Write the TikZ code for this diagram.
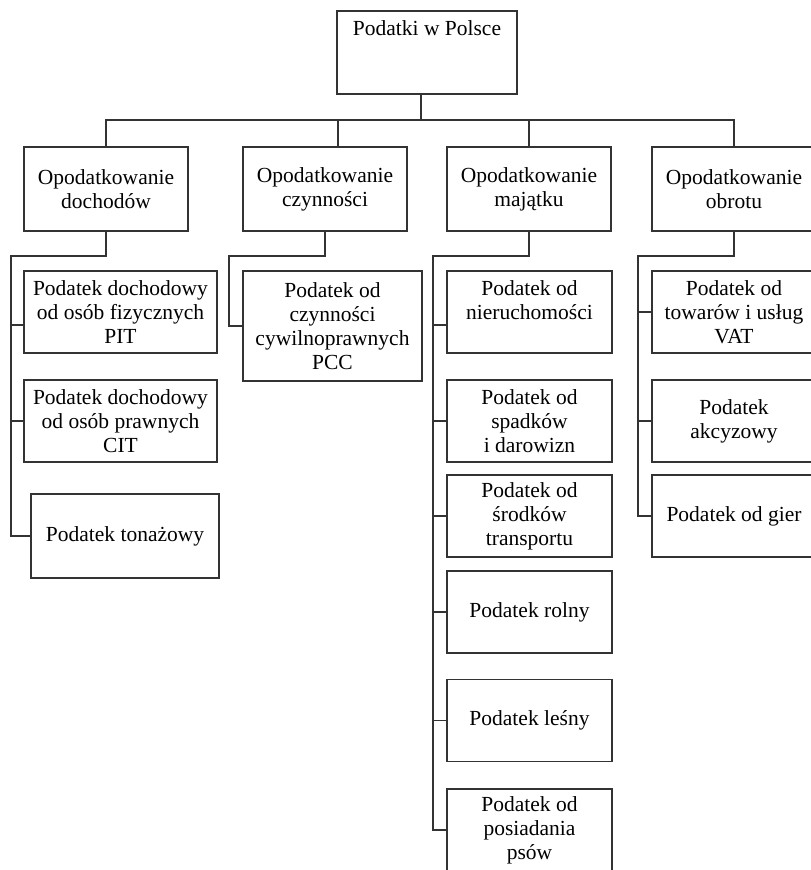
\documentclass[tikz,border=0pt]{standalone}
\usepackage{fontspec}
\setmainfont{Liberation Serif}
\begin{document}
\begin{tikzpicture}[x=1pt, y=-1pt,
    box/.style={draw=black!80, line width=1.1pt, align=center, inner sep=0pt,
        font=\fontsize{21.5}{24}\selectfont},
    link/.style={draw=black!80, line width=1.1pt}]
    \useasboundingbox (0,0) rectangle (811,870);
    \clip (0,0) rectangle (811,870);

    % Root
    \node[box, minimum width=180, minimum height=83] (podatki) at (427,52.5) {Podatki w Polsce\\ \mbox{}\\ \mbox{}};

    % Level 1
    \node[box, minimum width=164, minimum height=84] (dochody) at (106,189) {Opodatkowanie\\dochodów};
    \node[box, minimum width=164, minimum height=84] (czynnosci) at (325,189) {Opodatkowanie\\czynności};
    \node[box, minimum width=164, minimum height=84] (majatek) at (529,189) {Opodatkowanie\\majątku};
    \node[box, minimum width=164, minimum height=84] (obrot) at (734,189) {Opodatkowanie\\obrotu};

    % Income taxes
    \node[box, minimum width=193, minimum height=82] (pit) at (120.5,312) {Podatek dochodowy\\od osób fizycznych\\PIT};
    \node[box, minimum width=193, minimum height=82] (cit) at (120.5,421) {Podatek dochodowy\\od osób prawnych\\CIT};
    \node[box, minimum width=188, minimum height=84] (tonaz) at (125,536) {Podatek tonażowy};

    % Activity taxes
    \node[box, minimum width=179, minimum height=110] (pcc) at (332.5,326) {Podatek od\\czynności\\cywilnoprawnych\\PCC};

    % Property taxes
    \node[box, minimum width=165, minimum height=82] (nier) at (529.5,312) {Podatek od\\nieruchomości\\ \mbox{}};
    \node[box, minimum width=165, minimum height=82] (spadki) at (529.5,421) {Podatek od\\spadków\\i darowizn};
    \node[box, minimum width=165, minimum height=82] (srodki) at (529.5,516) {Podatek od\\środków\\transportu};
    \node[box, minimum width=165, minimum height=82] (rolny) at (529.5,612) {Podatek rolny};
    \node[box, minimum width=165, minimum height=82] (lesny) at (529.5,720.5) {Podatek leśny};
    \node[box, minimum width=165, minimum height=82] (psy) at (529.5,830) {Podatek od\\posiadania\\psów};

    % Turnover taxes
    \node[box, minimum width=164, minimum height=82] (vat) at (734,312) {Podatek od\\towarów i usług\\VAT};
    \node[box, minimum width=164, minimum height=82] (akcyza) at (734,421) {Podatek\\akcyzowy};
    \node[box, minimum width=164, minimum height=82] (gry) at (734,516) {Podatek od gier};

    % Trunk
    \coordinate (szyna) at (421,120);
    \draw[link] (podatki.south -| szyna) -- (szyna);
    \draw[link] (dochody.north) |- (szyna) -| (obrot.north);
    \coordinate (czyntop) at ([xshift=13pt]czynnosci.north);
    \draw[link] (czyntop) -- (czyntop |- szyna);
    \draw[link] (majatek.north) -- (majatek.north |- szyna);

    % Branches
    \coordinate (k1) at (11,256);
    \coordinate (k2) at (229,256);
    \coordinate (k3) at (433,256);
    \coordinate (k4) at (638,256);
    \coordinate (pitjoin) at ([yshift=-13pt]pit.west);
    \coordinate (nierjoin) at ([yshift=-13pt]nier.west);

    \draw[link] (dochody.south) |- (k1) |- (tonaz.west);
    \draw[link] (k1 |- pitjoin) -- (pitjoin);
    \draw[link] (k1 |- cit.west) -- (cit.west);

    \draw[link] (czynnosci.south) |- (k2) |- (pcc.west);

    \draw[link] (majatek.south) |- (k3) |- (psy.west);
    \draw[link] (k3 |- nierjoin) -- (nierjoin);
    \foreach \n in {spadki,srodki,rolny,lesny}
        \draw[link] (k3 |- \n.west) -- (\n.west);

    \draw[link] (obrot.south) |- (k4) |- (gry.west);
    \draw[link] (k4 |- vat.west) -- (vat.west);
    \draw[link] (k4 |- akcyza.west) -- (akcyza.west);
\end{tikzpicture}
\end{document}
